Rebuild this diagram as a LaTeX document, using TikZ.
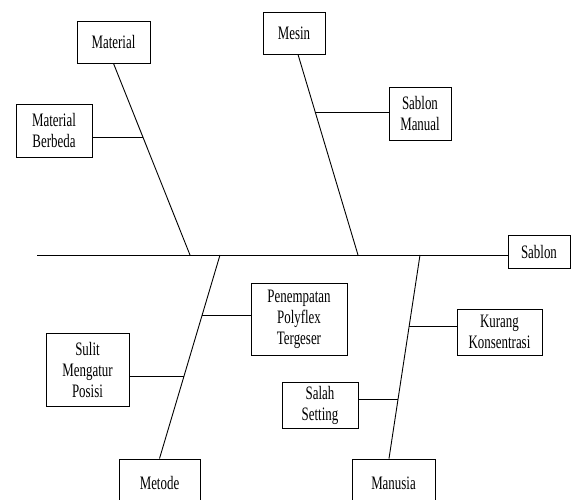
\documentclass[tikz,border=0pt]{standalone}
\usepackage{fontspec}
\setmainfont{Liberation Serif}[FakeStretch=0.68]
\usetikzlibrary{calc}
\tikzstyle{kotak} = [rectangle, draw, align=center, inner sep=2pt,
    font=\fontsize{19}{21}\selectfont]

\begin{document}
\begin{tikzpicture}[x=1pt,y=-1pt,line width=0.9pt]
  \clip (0,0) rectangle (571,499);

  % kepala dan tulang utama
  \node[kotak,minimum width=62pt,minimum height=33pt] (sab) at (539,251.5) {Sablon};
  \coordinate (ekor) at (37,255);
  \draw (ekor) -- (ekor -| sab.west);

  % kategori
  \node[kotak,minimum width=73pt,minimum height=42pt] (mat) at (113.5,42) {Material};
  \node[kotak,minimum width=62pt,minimum height=42pt] (mes) at (294,33) {Mesin};
  \node[kotak,minimum width=81pt,minimum height=48pt] (met) at (159.5,483) {Metode};
  \node[kotak,minimum width=83pt,minimum height=48pt] (man) at (393.5,483) {Manusia};

  % sebab
  \node[kotak,minimum width=76pt,minimum height=53pt] (matb) at (54,130.5) {Material\\Berbeda};
  \node[kotak,minimum width=62pt,minimum height=53pt] (sabm) at (420,113.5) {Sablon\\Manual};
  \node[kotak,minimum width=96pt,minimum height=72pt] (pen) at (299,319) {Penempatan\\Polyflex\\Tergeser};
  \node[kotak,minimum width=83pt,minimum height=73pt] (sul) at (87.5,369.5) {Sulit\\Mengatur\\Posisi};
  \node[kotak,minimum width=85pt,minimum height=46pt] (kur) at (499.5,332) {Kurang\\Konsentrasi};
  \node[kotak,minimum width=76pt,minimum height=46pt] (sal) at (320,405) {Salah\\Setting};

  % tulang kategori
  \coordinate (t1) at (190,255);
  \coordinate (t2) at (358,255);
  \coordinate (t3) at (220,255);
  \coordinate (t4) at (420,255);
  \draw (mat.south) -- (t1);
  \draw ([xshift=4pt]mes.south) -- (t2);
  \draw (t3) -- (met.north);
  \draw (t4) -- ([xshift=-4.5pt]man.north);

  % cabang
  \coordinate (j1) at ($(mat.south)!0.385!(t1)$);
  \coordinate (j2) at ($([xshift=4pt]mes.south)!0.289!(t2)$);
  \coordinate (j3) at ($(t3)!0.299!(met.north)$);
  \coordinate (j4) at ($(t3)!0.598!(met.north)$);
  \coordinate (j5) at ($(t4)!0.353!([xshift=-4.5pt]man.north)$);
  \coordinate (j6) at ($(t4)!0.711!([xshift=-4.5pt]man.north)$);
  \draw (j1) -- (j1 -| matb.east);
  \draw (j2) -- (j2 -| sabm.west);
  \draw (j3) -- (j3 -| pen.west);
  \draw (j4) -- (j4 -| sul.east);
  \draw (j5) -- (j5 -| kur.west);
  \draw (j6) -- (j6 -| sal.east);
\end{tikzpicture}
\end{document}
